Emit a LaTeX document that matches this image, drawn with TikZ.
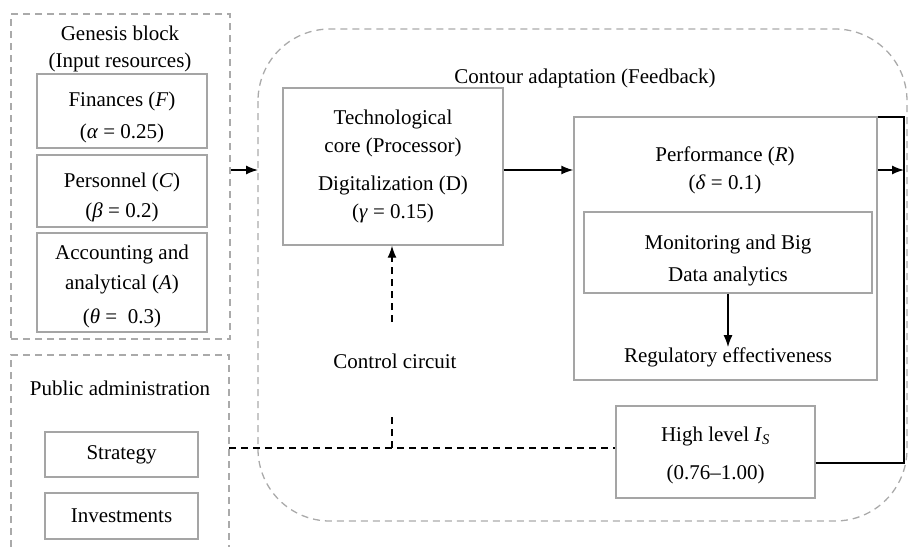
\documentclass[tikz,border=0pt]{standalone}
\usepackage{fontspec}
\setmainfont{Liberation Serif}
\usetikzlibrary{arrows.meta}
\definecolor{boxgray}{RGB}{165,165,165}
\definecolor{dashgray}{RGB}{170,170,170}
\begin{document}
\begin{tikzpicture}[x=1pt,y=-1pt,
 every node/.style={font=\fontsize{21}{27}\selectfont, inner sep=0pt, align=center},
 gbox/.style={draw=boxgray, line width=1.4pt, rectangle},
 cont/.style={draw=dashgray, line width=1.3pt, dash pattern=on 7pt off 5pt},
 blk/.style={draw=black, line width=1.4pt},
 tip/.style={-{Latex[length=12pt,width=9pt]}},
 arr/.style={blk, tip},
 bdash/.style={blk, dash pattern=on 7pt off 5pt},
]
\useasboundingbox (0,0) rectangle (909,547);

% containers
\draw[cont, rounded corners=72pt] (258,29) rectangle (907,521);
\node[cont, rectangle, minimum width=219pt, minimum height=325pt] (gen) at (120.5,176.5) {};
\draw[cont] (11,547) -- (11,355) -- (229,355) -- (229,547);
\coordinate (pubE) at (229,448);

% genesis block
\node (gtitle) at (120,49) {Genesis block\\(Input resources)};
\node[gbox, minimum width=170pt, minimum height=74pt] (fin) at (122,111) {};
\node (fint) at (122,117) {Finances (\textit{F})\\[5pt](\textit{α} = 0.25)};
\node[gbox, minimum width=170pt, minimum height=72pt] (pers) at (122,191) {};
\node (perst) at (122,197.5) {Personnel (\textit{C})\\[3pt](\textit{β} = 0.2)};
\node[gbox, minimum width=170pt, minimum height=99pt] (acc) at (122,282.5) {};
\node (acct) at (122,286) {Accounting and\\[3pt]analytical (\textit{A})\\[7pt](\textit{θ} =\ \ 0.3)};

% public administration
\node (ptitle) at (120,388) {Public administration};
\node[gbox, minimum width=153pt, minimum height=45pt] (strat) at (121.5,454.5) {Strategy};
\node[gbox, minimum width=153pt, minimum height=46pt] (inv) at (121.5,516) {Investments};

% contour
\node (ctitle) at (585,78) {Contour adaptation (Feedback)};
\node[gbox, minimum width=220pt, minimum height=157pt] (tech) at (393,166.5) {Technological\\[1pt]core (Processor)\\[11pt]Digitalization (D)\\[1pt](\textit{γ} = 0.15)};
\node[gbox, minimum width=303pt, minimum height=263pt] (perf) at (725.5,248.5) {};
\node (ptext) at (725,170) {Performance (\textit{R})\\[1pt](\textit{δ} = 0.1)};
\node[gbox, minimum width=288pt, minimum height=81pt] (mon) at (728,252.5) {};
\node (mont) at (728,260) {Monitoring and Big\\[5pt]Data analytics};
\node (reg) at (728,357) {Regulatory effectiveness};
\node[gbox, minimum width=199pt, minimum height=92pt] (high) at (715.5,452) {};
\node (hight) at (715.5,455) {High level \textit{I}\textsubscript{\textit{S}}\\[11pt](0.76–1.00)};
\node (ctrl) at (395,361) {Control circuit};

% connectors
\coordinate (a170) at (0,170);
\coordinate (ain) at (258,170);
\coordinate (rtop) at (904,117);
\coordinate (rbot) at (904,463);
\coordinate (cj) at (392,448);
\coordinate (ctop) at (392,322);
\coordinate (cbot) at (392,414);

\draw[arr] (gen.east |- ain) -- (ain);
\draw[arr] (tech.east |- a170) -- (perf.west |- a170);
\draw[arr] (perf.east |- a170) -- (rtop |- a170);
\draw[blk] (high.east |- rbot) -- (rbot) -- (rtop) -- (perf.north east |- rtop);
\draw[arr] (mon.south -| mont) -- (reg.north -| mont);
\draw[bdash] (pubE) -- (cj) -- (high.west |- cj);
\draw[bdash] (cj) -- (cbot);
\draw[bdash, tip] (ctop) -- (tech.south -| ctop);
\end{tikzpicture}
\end{document}
